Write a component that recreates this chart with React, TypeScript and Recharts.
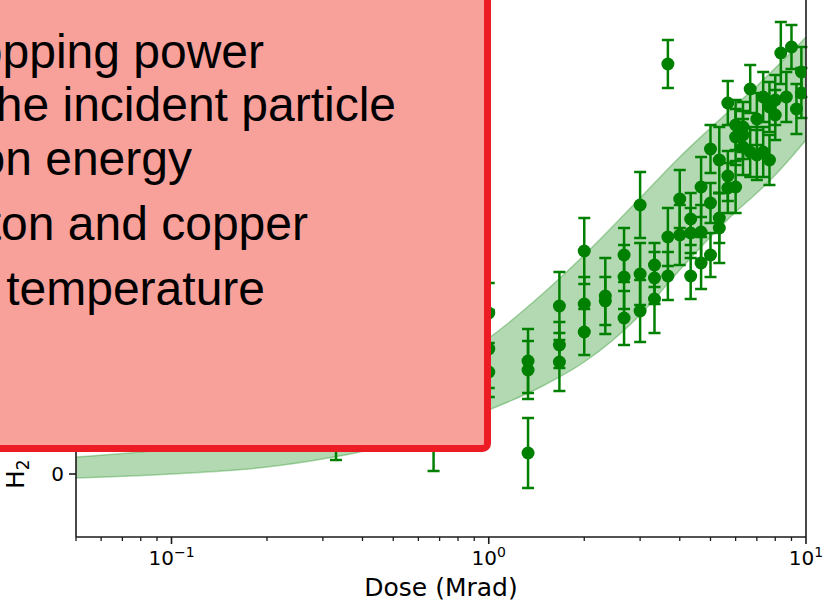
import React from 'react';
import { ComposedChart, Area, Scatter, XAxis, YAxis, ErrorBar, ReferenceLine } from 'recharts';

// Fit band (dose in Mrad, lower / upper edge of the band)
const bandDose = [0.05, 0.1, 0.2, 0.3, 0.5, 0.7, 1, 1.5, 2, 3, 4, 5, 6, 7, 8, 9, 10];
const bandLow = [-0.4, 0, 0.7, 1.5, 3.0, 4.6, 6.4, 8.9, 11.2, 15.9, 20.4, 23.7, 26.2, 28.1, 29.9, 31.7, 33.4];
const bandHigh = [1.7, 2.5, 3.8, 5.0, 8.2, 10.6, 13.6, 18.2, 21.9, 27.6, 31.7, 34.6, 36.9, 38.8, 40.6, 42.2, 43.7];

// Measurements
const pointDose = [
  0.33, 0.33, 0.33,
  0.67, 0.67, 0.67,
  1.0, 1.0, 1.0,
  1.33, 1.33, 1.33,
  1.67, 1.67, 1.67,
  2.0, 2.0, 2.0,
  2.33, 2.33,
  2.67, 2.67, 2.67,
  3.0, 3.0, 3.0,
  3.33, 3.33, 3.33,
  3.67, 3.67, 3.67,
  4.0, 4.0,
  4.33, 4.33, 4.33,
  4.67, 4.67, 4.67,
  5.0, 5.0, 5.0,
  5.33, 5.33, 5.33,
  5.67, 5.67, 5.67,
  6.0, 6.0, 6.0,
  6.33, 6.33, 6.33,
  6.67, 6.67,
  7.0, 7.0,
  7.33, 7.33,
  7.67, 7.67,
  8.0, 8.0,
  8.33,
  8.67,
  9.0,
  9.33,
  9.67, 9.67,
];
const pointH2 = [
  4.9, 7.4, 8.4,
  3.8, 6.4, 7.4,
  16.1, 12.5, 10.2,
  11.3, 10.4, 2.1,
  16.8, 12.9, 11.2,
  22.3, 17.0, 14.2,
  17.8, 17.3,
  21.9, 19.7, 15.6,
  26.9, 20.0, 16.3,
  20.9, 19.6, 17.5,
  41.0, 23.7, 19.8,
  27.5, 23.9,
  25.5, 24.1, 19.8,
  28.7, 24.2, 21.1,
  32.5, 27.1, 21.9,
  31.4, 25.6, 24.6,
  37.1, 29.8, 28.6,
  34.9, 33.7, 28.7,
  34.7, 33.9, 32.7,
  38.5, 32.2,
  35.5, 31.9,
  37.7, 32.2,
  36.7, 31.4,
  37.4, 35.9,
  42.1,
  37.7,
  42.7,
  36.5,
  40.2, 38.1,
];
const pointErr = [
  3.5, 3.5, 3.0,
  3.5, 3.2, 3.5,
  3.0, 3.9, 2.5,
  3.2, 2.9, 3.5,
  3.4, 2.3, 2.9,
  3.3, 2.7, 2.3,
  3.8, 2.4,
  2.7, 3.2, 2.7,
  3.3, 3.1, 3.1,
  2.2, 2.6, 3.4,
  2.4, 2.9, 2.4,
  2.9, 3.0,
  2.6, 2.5, 2.3,
  3.0, 2.7, 2.6,
  2.4, 2.0, 2.2,
  3.3, 2.5, 3.5,
  2.2, 2.5, 2.5,
  2.5, 2.8, 2.6,
  2.5, 2.4, 2.8,
  2.4, 2.5,
  2.6, 2.5,
  2.5, 2.5,
  2.5, 2.5,
  2.5, 2.5,
  3.1,
  2.5,
  2.2,
  2.5,
  2.5, 2.5,
];

const xMajorTicks = [0.1, 1, 10];
const xMajorExponents = ['\u22121', '0', '1'];
const xMinorTicks = [0.05, 0.06, 0.07, 0.08, 0.09, 0.2, 0.3, 0.4, 0.5, 0.6, 0.7, 0.8, 0.9, 2, 3, 4, 5, 6, 7, 8, 9];
const yTicks = [0];
const xTitle = 'Dose (Mrad)';
const yTitle = 'H';
const yTitleSub = '2';
const boxLines = [
  'Stopping power',
  'of the incident particle',
  'Proton energy',
  'Proton and copper',
  'Irradiation temperature',
];

const bandData = bandDose.map((d, i) => ({ dose: d, band: [bandLow[i], bandHigh[i]] }));
const pointData = pointDose.map((d, i) => ({ dose: d, h2: pointH2[i], err: pointErr[i] }));
const allXTicks = [...xMinorTicks, ...xMajorTicks].sort((a, b) => a - b);

const FONT = 'DejaVu Sans, sans-serif';
const AXIS = '#1a1a1a';

const XTick = (props: any) => {
  const { x, y, payload } = props;
  const v = payload.value;
  const idx = xMajorTicks.findIndex((t) => Math.abs(t - v) < 1e-9);
  if (idx < 0) {
    return <line x1={x} x2={x} y1={y} y2={y + 4} stroke={AXIS} strokeWidth={1.3} />;
  }
  return (
    <g>
      <line x1={x} x2={x} y1={y} y2={y + 7} stroke={AXIS} strokeWidth={1.6} />
      <text x={x} y={y + 28} textAnchor="middle" fontFamily={FONT} fontSize={20} fill="#000">
        <tspan>10</tspan>
        <tspan fontSize={14} dy={-8}>{xMajorExponents[idx]}</tspan>
      </text>
    </g>
  );
};

const XTitle = (props: any) => {
  const vb = props.viewBox || { x: 76, y: 537, width: 730, height: 67 };
  return (
    <text x={vb.x + vb.width / 2} y={vb.y + 59} textAnchor="middle" fontFamily={FONT} fontSize={25} fill="#000">
      {xTitle}
    </text>
  );
};

const YTitle = (props: any) => {
  const vb = props.viewBox || { x: 0, y: 0, width: 76, height: 537 };
  const x = vb.x + 24;
  const y = vb.y + vb.height - 48;
  return (
    <text x={x} y={y} transform={`rotate(-90, ${x}, ${y})`} fontFamily={FONT} fontSize={25} fill="#000">
      <tspan>{yTitle}</tspan>
      <tspan fontSize={17} dy={5}>{yTitleSub}</tspan>
    </text>
  );
};

const Dot = (p: any) => <circle cx={p.cx} cy={p.cy} r={6.5} fill="green" />;

export default function App() {
  return (
    <div style={{ position: 'absolute', left: 0, top: 0, width: 827, height: 604, overflow: 'hidden', background: '#fff' }}>
      <ComposedChart width={827} height={604} data={bandData} margin={{ top: 0, right: 21, bottom: 0, left: 0 }}>
        <XAxis
          dataKey="dose"
          type="number"
          scale="log"
          domain={[0.05, 10]}
          allowDataOverflow
          ticks={allXTicks}
          interval={0}
          tickSize={0}
          tickMargin={0}
          tick={XTick}
          height={67}
          axisLine={{ stroke: AXIS, strokeWidth: 1.6 }}
          tickLine={false}
          label={<XTitle />}
        />
        <YAxis
          type="number"
          domain={[-6.3, 47.4]}
          allowDataOverflow
          ticks={yTicks}
          interval={0}
          width={76}
          tickSize={7}
          tickMargin={5}
          tick={{ fontSize: 20, fill: '#000', fontFamily: FONT }}
          tickLine={{ stroke: AXIS, strokeWidth: 1.6 }}
          axisLine={{ stroke: AXIS, strokeWidth: 1.6 }}
          label={<YTitle />}
        />
        <Area
          dataKey="band"
          type="monotone"
          fill="green"
          fillOpacity={0.3}
          stroke="green"
          strokeOpacity={0.3}
          strokeWidth={1.5}
          isAnimationActive={false}
          dot={false}
          activeDot={false}
        />
        <Scatter data={pointData} dataKey="h2" fill="green" shape={Dot} isAnimationActive={false}>
          <ErrorBar dataKey="err" direction="y" width={6} stroke="green" strokeWidth={2.5} />
        </Scatter>
        <ReferenceLine x={10} stroke={AXIS} strokeWidth={1.6} />
      </ComposedChart>
      <svg width={827} height={604} style={{ position: 'absolute', left: 0, top: 0, pointerEvents: 'none' }}>
        <rect x={-20} y={-20} width={507.5} height={468.5} rx={5} fill="#F8A19B" stroke="#ED1C24" strokeWidth={7} />
        {boxLines.map((t, i) => (
          <text
            key={i}
            x={[264, 396, 192, 308, 265][i]}
            y={[68, 121, 175, 240, 305][i]}
            textAnchor="end"
            fontFamily="Liberation Sans, Arial, sans-serif"
            fontSize={48}
            fill="#000"
          >
            {t}
          </text>
        ))}
      </svg>
    </div>
  );
}
